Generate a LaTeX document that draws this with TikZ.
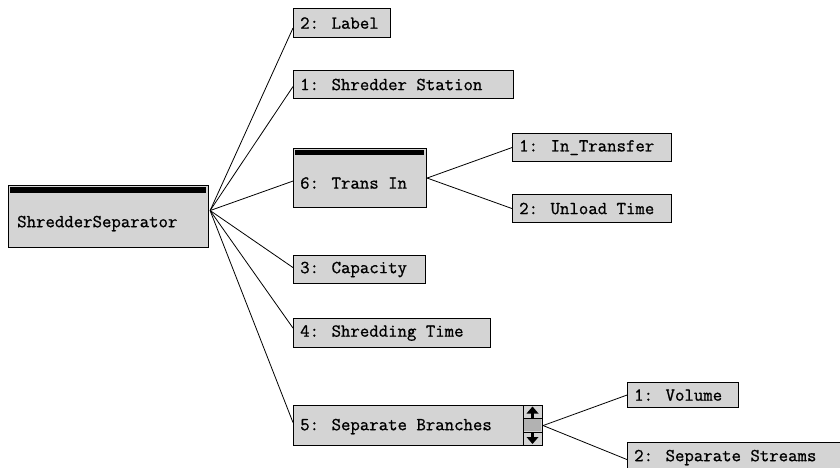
\documentclass[tikz,border=0pt]{standalone}
\usepackage{fontspec}
\newfontfamily\cour[FakeBold=0.9]{Latin Modern Mono}
\usetikzlibrary{calc}
\tikzset{
  box/.style={draw=black, line width=1.1pt, fill=black!17, rectangle, inner sep=0pt, anchor=north west},
  txt/.style={font=\cour\fontsize{18.3}{20}\selectfont, inner sep=0pt, anchor=west, text=black},
  conn/.style={draw=black, line width=0.8pt},
  tbar/.style={fill=black, draw=none}
}
\newcommand{\mybox}[5]{% name, x1, y1, x2, y2
  \node[box, minimum width={(#4-#2)*1pt}, minimum height={(#5-#3)*1pt}] (#1) at (#2,-#3) {};}
\begin{document}
\begin{tikzpicture}[x=1pt,y=1pt]
\useasboundingbox (0,0) rectangle (840,-468);
\fill[white] (0,0) rectangle (840,-468);
\clip (0,0) rectangle (840,-468);
% boxes
\mybox{root}{8}{185}{208}{247}
\mybox{lab}{293}{8}{390}{37}
\mybox{sta}{293}{70}{513}{98}
\mybox{tra}{293}{148}{426}{207}
\mybox{intr}{512}{133}{671}{161}
\mybox{unl}{512}{194}{671}{222}
\mybox{cap}{293}{255}{425}{283}
\mybox{shr}{293}{318}{490}{347}
\mybox{sep}{293}{405}{542}{445}
\mybox{vol}{627}{382}{738}{407}
\mybox{sst}{627}{442}{870}{476}
% title bars
\fill[tbar] (10,-187) rectangle (206,-193);
\fill[tbar] (295,-150) rectangle (424,-155);
% scrollbar
\draw[line width=1pt] (523,-405) -- (523,-445);
\draw[line width=1pt] (523,-418) -- (542,-418);
\draw[line width=1pt] (523,-432) -- (542,-432);
\fill[black!30] (524,-419) rectangle (541,-431);
\fill[black] (526.5,-413.5) -- (532.5,-406.5) -- (538.5,-413.5) -- cycle;
\fill[black] (531,-413) rectangle (534,-418);
\fill[black] (531,-432) rectangle (534,-437.5);
\fill[black] (526.5,-437) -- (532.5,-444) -- (538.5,-437) -- cycle;
% texts
\node[txt] (rootT) at ($(root.west)+(9,-7)$) {ShredderSeparator};
\node[txt] (labT) at ($(lab.west)+(7,0)$) {2: Label};
\node[txt] (staT) at ($(sta.west)+(7,0)$) {1: Shredder Station};
\node[txt] (traT) at ($(tra.west)+(7,-5)$) {6: Trans In};
\node[txt] (intrT) at ($(intr.west)+(7,0)$) {1: In\_Transfer};
\node[txt] (unlT) at ($(unl.west)+(7,0)$) {2: Unload Time};
\node[txt] (capT) at ($(cap.west)+(7,0)$) {3: Capacity};
\node[txt] (shrT) at ($(shr.west)+(7,0)$) {4: Shredding Time};
\node[txt] (sepT) at ($(sep.west)+(7,-1)$) {5: Separate Branches};
\node[txt] (volT) at ($(vol.west)+(7,0)$) {1: Volume};
\node[txt] (sstT) at ($(sst.west)+(7,2)$) {2: Separate Streams};
% connectors
\coordinate (hub) at ($(root.east)+(1,6)$);
\foreach \t/\dy in {lab/-5,sta/-2,tra/-3,cap/2,shr/5,sep/3}
  \draw[conn] (hub) -- ($(\t.west)+(0,\dy)$);
\draw[conn] (tra.east) -- (intr.west);
\draw[conn] (tra.east) -- (unl.west);
\draw[conn] (sep.east) -- (vol.west);
\draw[conn] (sep.east) -- (sst.west);
\end{tikzpicture}
\end{document}
